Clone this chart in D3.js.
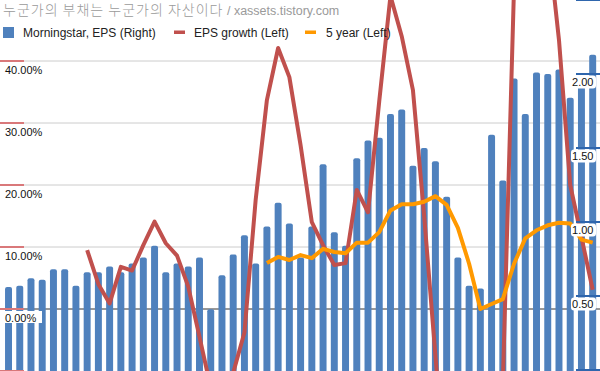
<!DOCTYPE html>
<html><head><meta charset="utf-8">
<script src="https://cdn.jsdelivr.net/npm/d3@7"></script>
<style>html,body{margin:0;padding:0;background:#fff;} svg{display:block;}</style>
</head><body><svg id="c" width="600" height="371"></svg>
<script>
const categories = ["1970","1971","1972","1973","1974","1975","1976","1977","1978","1979",
  "1980","1981","1982","1983","1984","1985","1986","1987","1988","1989",
  "1990","1991","1992","1993","1994","1995","1996","1997","1998","1999",
  "2000","2001","2002","2003","2004","2005","2006","2007","2008","2009",
  "2010","2011","2012","2013","2014","2015","2016","2017","2018","2019",
  "2020","2021","2022"];
const epsRight = [0.56,0.57,0.62,0.61,0.68,0.68,0.57,0.66,0.66,0.70,
  0.66,0.72,0.76,0.84,0.66,0.72,0.70,0.76,0.41,0.64,
  0.78,0.91,0.72,0.97,1.13,0.99,0.76,0.97,1.39,0.93,
  0.84,1.43,1.55,1.57,1.73,1.76,1.38,1.50,1.41,1.17,
  0.76,0.57,0.55,1.59,1.28,1.97,1.73,2.01,2.00,2.03,
  1.84,1.92,2.13];
const epsGrowth = [null,null,null,null,null,null,null,9.5,4.0,0.9,
  6.8,6.2,10.3,14.1,10.6,8.6,3.6,-4.5,-12.7,-20.0,
  -10.3,-3.8,17.6,33.7,42.1,37.4,26.4,14.0,10.3,7.1,
  7.4,19.2,15.6,33.5,50.5,44.0,35.3,15.0,-7.5,-30.0,
  -45.0,-40.0,-25.0,-35.0,-12.0,52.0,70.0,65.0,60.0,43.4,
  20.0,11.6,3.1];
const fiveYear = [null,null,null,null,null,null,null,null,null,null,
  null,null,null,null,null,null,null,null,null,null,
  null,null,null,7.4,8.4,7.9,8.7,8.2,9.7,9.2,
  9.0,10.7,10.7,12.4,15.9,16.9,16.9,17.3,18.2,16.8,
  13.1,7.3,0.0,0.8,1.6,7.3,11.4,12.7,13.5,13.9,
  13.8,11.2,10.7];
const leftTickMarks = [-10,0,10,20,30,40,50];
const leftTickLabels = ["0.00%","10.00%","20.00%","30.00%","40.00%"];
const leftLabelValues = [0,10,20,30,40];
const rightTickMarks = [0,0.5,1,1.5,2,2.5];
const rightLabelValues = [0.5,1,1.5,2];
const rightTickLabels = ["0.50","1.00","1.50","2.00"];
const seriesNames = ["Morningstar, EPS (Right)","EPS growth (Left)","5 year (Left)"];
const seriesColors = ["#4f81bd","#c0504d","#ff9900"];
const titleKo = "누군가의 부채는 누군가의 자산이다";
const titleEn = " / xassets.tistory.com";

const W = 600, H = 371;
const svg = d3.select("#c");
const x = d3.scaleBand().domain(categories).range([2.9, 598.3]).paddingInner(0.38).paddingOuter(0.19);
const yL = d3.scaleLinear().domain([-10, 50]).range([371, -1]);
const yR = d3.scaleLinear().domain([0, 2.5]).range([370, 0]);

// gridlines
svg.append("g").selectAll("line").data(leftLabelValues.filter(v => v !== 0)).join("line")
  .attr("x1", 0).attr("x2", W).attr("y1", d => yL(d)).attr("y2", d => yL(d))
  .attr("stroke", "#cccccc").attr("stroke-width", 1);
// zero line
svg.append("line").attr("x1", 0).attr("x2", W).attr("y1", yL(0)).attr("y2", yL(0))
  .attr("stroke", "#333").attr("stroke-width", 1);

// bars
svg.append("g").selectAll("rect").data(categories).join("rect")
  .attr("x", d => x(d)).attr("width", x.bandwidth())
  .attr("y", (d, i) => yR(epsRight[i]))
  .attr("height", (d, i) => yR(0) - yR(epsRight[i]) + 6)
  .attr("rx", 2).attr("fill", seriesColors[0]);

const lineL = (arr) => d3.line()
  .defined((d, i) => arr[i] !== null)
  .x((d, i) => x(categories[i]) + x.bandwidth() / 2)
  .y((d, i) => yL(arr[i]));

svg.append("path").datum(epsGrowth).attr("d", lineL(epsGrowth))
  .attr("fill", "none").attr("stroke", seriesColors[1]).attr("stroke-width", 4)
  .attr("stroke-linejoin", "round");
svg.append("path").datum(fiveYear).attr("d", lineL(fiveYear))
  .attr("fill", "none").attr("stroke", seriesColors[2]).attr("stroke-width", 4)
  .attr("stroke-linejoin", "round");

// left tick marks (red)
svg.append("g").selectAll("line").data(leftTickMarks).join("line")
  .attr("x1", 0).attr("x2", 24).attr("y1", d => yL(d)).attr("y2", d => yL(d))
  .attr("stroke", "#d9787a").attr("stroke-width", 2);
// right tick marks (blue)
svg.append("g").selectAll("line").data(rightTickMarks).join("line")
  .attr("x1", 576).attr("x2", W).attr("y1", d => yR(d)).attr("y2", d => yR(d))
  .attr("stroke", "#2f66ad").attr("stroke-width", 2);

// left labels
const ll = svg.append("g").selectAll("g").data(leftLabelValues).join("g");
ll.append("rect").attr("x", 4).attr("y", d => yL(d) + 2).attr("width", 38).attr("height", 12)
  .attr("fill", "#fff");
ll.append("text").attr("x", 5).attr("y", d => yL(d) + 12.5)
  .attr("font-family", "Liberation Sans, Arial, sans-serif").attr("font-size", 11).attr("fill", "#111")
  .text((d, i) => leftTickLabels[i]);

// right labels
const rl = svg.append("g").selectAll("g").data(rightLabelValues).join("g");
rl.append("rect").attr("x", 571).attr("y", d => yR(d) + 1.5).attr("width", 25).attr("height", 13)
  .attr("rx", 3).attr("fill", "#fff");
rl.append("text").attr("x", 593.5).attr("y", d => yR(d) + 12)
  .attr("text-anchor", "end")
  .attr("font-family", "Liberation Sans, Arial, sans-serif").attr("font-size", 11).attr("fill", "#111")
  .text((d, i) => rightTickLabels[i]);

// title
const t = svg.append("text").attr("x", 3).attr("y", 15)
  .attr("font-family", "Liberation Sans, Arial, 'Noto Sans CJK KR', sans-serif").attr("font-size", 12.5).attr("fill", "#9a9a9a");
t.append("tspan").attr("font-family", "'Noto Sans CJK KR', sans-serif").attr("font-weight", 300)
  .attr("font-size", 14).attr("letter-spacing", 1).text(titleKo);
t.append("tspan").text(titleEn);

// legend
const legX = [3, 174, 305];
const legTextX = [23, 194, 326];
const lg = svg.append("g").attr("font-family", "Liberation Sans, Arial, sans-serif").attr("font-size", 12).attr("fill", "#222");
lg.append("rect").attr("x", legX[0]).attr("y", 27).attr("width", 11).attr("height", 11).attr("fill", seriesColors[0]);
lg.append("rect").attr("x", legX[1]).attr("y", 30.5).attr("width", 11).attr("height", 3.5).attr("fill", seriesColors[1]);
lg.append("rect").attr("x", legX[2]).attr("y", 30.5).attr("width", 11).attr("height", 3.5).attr("fill", seriesColors[2]);
seriesNames.forEach((n, i) => {
  lg.append("text").attr("x", legTextX[i]).attr("y", 37).text(n);
});
</script></body></html>
